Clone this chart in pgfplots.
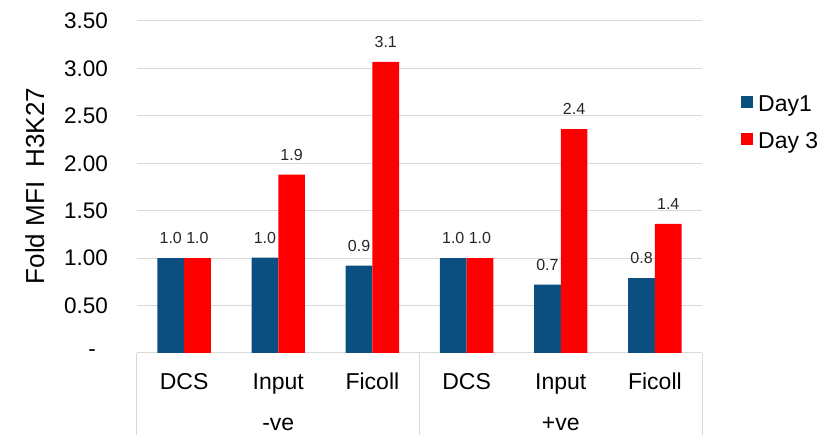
\documentclass[border=0pt]{standalone}
\usepackage{pgfplots}
\pgfplotsset{compat=1.18}
\usepackage{fontspec}
\setmainfont{Liberation Sans}
\definecolor{dayone}{RGB}{11,79,129}
\definecolor{daythree}{RGB}{255,0,0}
\definecolor{gridgray}{RGB}{217,217,217}

\begin{document}
\begin{tikzpicture}
\begin{axis}[
  at={(137pt,82pt)}, anchor=south west,
  scale only axis, width=565pt, height=332pt,
  xmin=-0.5, xmax=5.5, ymin=0, ymax=3.5,
  clip=false,
  ybar=0pt, bar width=26.7pt,
  axis line style={draw=none},
  major tick length=0pt,
  xtick={0,...,5},
  xticklabels={DCS,Input,Ficoll,DCS,Input,Ficoll},
  xticklabel style={font=\fontsize{23}{27}\selectfont, anchor=north, inner sep=0pt},
  xticklabel shift=20pt,
  ytick={0,0.5,1,1.5,2,2.5,3,3.5},
  yticklabels={{-\kern12pt},0.50,1.00,1.50,2.00,2.50,3.00,3.50},
  yticklabel style={font=\fontsize{22.5}{27}\selectfont, anchor=east, inner sep=0pt},
  yticklabel shift=29pt,
  ymajorgrids, grid style={gridgray, line width=1pt},
  ylabel={Fold MFI\ \ H3K27},
  ylabel style={font=\fontsize{26}{30}\selectfont, at={(axis description cs:-0.1646,0.503)}, anchor=base},
  nodes near coords={\pgfmathprintnumber[fixed,fixed zerofill,precision=1,assume math mode=true]{\pgfplotspointmeta}},
  nodes near coords style={font=\fontsize{16}{18}\selectfont, anchor=south, inner sep=0pt, yshift=14pt, text=black!85},
  legend style={at={(axis description cs:1.069,0.693)}, anchor=west, draw=none, fill=none,
    inner sep=0pt, font=\fontsize{23}{27}\selectfont, row sep=20pt, column sep=5pt,
    nodes={inner sep=0pt}},
  legend cell align=left,
]
\addplot[fill=dayone, draw=none,
  legend image code/.code={\fill[dayone] (0pt,-3.8pt) rectangle (12pt,8.2pt);}]
  coordinates {(0,1.00) (1,1.005) (2,0.92) (3,1.00) (4,0.72) (5,0.79)};
\addlegendentry{Day1}
\addplot[fill=daythree, draw=none,
  legend image code/.code={\fill[daythree] (0pt,-3.8pt) rectangle (12pt,8.2pt);}]
  coordinates {(0,1.00) (1,1.88) (2,3.07) (3,1.00) (4,2.36) (5,1.36)};
\addlegendentry{Day 3}

% group separators below the category axis
\draw[gridgray, line width=1pt] (axis cs:-0.5,0) -- (axis cs:-0.5,-0.864);
\draw[gridgray, line width=1pt] (axis cs:2.5,0) -- (axis cs:2.5,-0.864);
\draw[gridgray, line width=1pt] (axis cs:5.5,0) -- (axis cs:5.5,-0.864);
\node[anchor=base, font=\fontsize{23}{27}\selectfont] at (axis cs:1,-0.816) {-ve};
\node[anchor=base, font=\fontsize{23}{27}\selectfont] at (axis cs:4,-0.816) {+ve};
\end{axis}
\pgfresetboundingbox
\path (0,0) rectangle (833pt,435pt);
\end{tikzpicture}
\end{document}
